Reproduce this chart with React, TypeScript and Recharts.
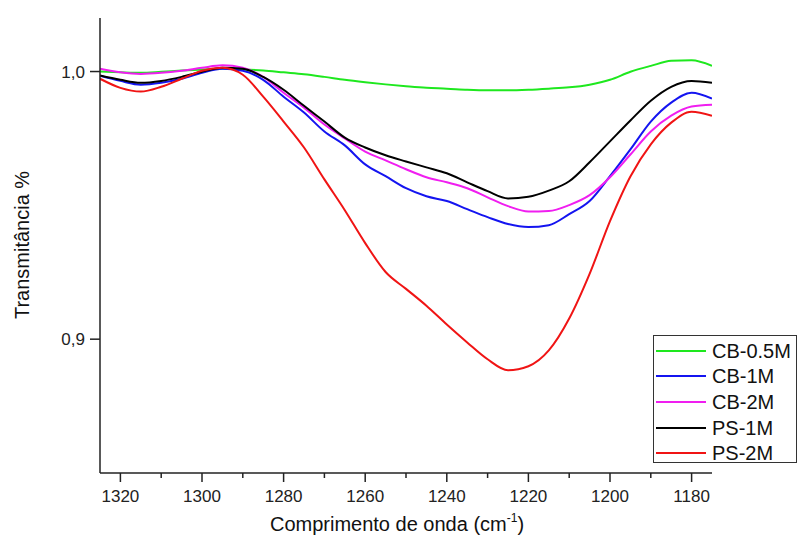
import { LineChart, Line, XAxis, YAxis } from 'recharts';

const wavenumbers = [
  1325, 1320, 1315, 1310, 1305, 1300, 1295, 1290, 1285, 1280, 1275, 1270, 1265, 1260, 1255, 1250,
  1245, 1240, 1235, 1230, 1225, 1220, 1215, 1210, 1205, 1200, 1195, 1190, 1185, 1180, 1175,
];

const cb05 = [
  1.0, 0.9997, 0.9995, 0.9999, 1.0004, 1.0008, 1.001, 1.0008, 1.0004, 0.9997, 0.999, 0.998, 0.9969,
  0.996, 0.9952, 0.9945, 0.9939, 0.9936, 0.9932, 0.993, 0.993, 0.9932, 0.9936, 0.9941, 0.9951,
  0.9969, 0.9999, 1.0021, 1.004, 1.0042, 1.0021,
];
const cb1 = [
  0.9984, 0.9965, 0.9951, 0.9958, 0.9973, 0.9995, 1.001, 1.0003, 0.9969, 0.9906, 0.9847, 0.9776,
  0.9724, 0.9653, 0.9609, 0.9564, 0.9534, 0.9516, 0.9486, 0.9456, 0.943, 0.9419, 0.9426, 0.9467,
  0.9516, 0.9609, 0.9709, 0.9813, 0.9884, 0.9921, 0.9899,
];
const cb2 = [
  1.001, 0.9997, 0.9991, 0.9995, 1.0003, 1.0014, 1.0023, 1.0014, 0.998, 0.9921, 0.9865, 0.9802,
  0.975, 0.9701, 0.9668, 0.9635, 0.9605, 0.9586, 0.9564, 0.953, 0.9497, 0.9477, 0.9479, 0.9501,
  0.9538, 0.9605, 0.969, 0.9776, 0.9835, 0.9869, 0.9876,
];
const ps1 = [
  0.9985, 0.9969, 0.9958, 0.9965, 0.998, 0.9999, 1.0014, 1.001, 0.998, 0.9932, 0.9872, 0.9813,
  0.9753, 0.9716, 0.9687, 0.9664, 0.9642, 0.962, 0.9586, 0.9553, 0.9526, 0.9532, 0.9555, 0.959,
  0.9661, 0.9739, 0.9817, 0.9891, 0.9943, 0.9965, 0.9958,
];
const ps2 = [
  0.9973, 0.9939, 0.9925, 0.9943, 0.9973, 1.0003, 1.0014, 0.9988, 0.9906, 0.9813, 0.9716, 0.9597,
  0.9482, 0.9359, 0.9251, 0.9188, 0.9125, 0.9055, 0.8988, 0.8925, 0.8884, 0.8899, 0.8958, 0.9077,
  0.9244, 0.9441, 0.9608, 0.9728, 0.9809, 0.985, 0.9835,
];

const xTicks = [1320, 1310, 1300, 1290, 1280, 1270, 1260, 1250, 1240, 1230, 1220, 1210, 1200, 1190, 1180];
const yTicks = [0.9, 1.0];

const series = [
  { key: 'cb05', name: 'CB-0.5M', color: '#1ee81e' },
  { key: 'cb1', name: 'CB-1M', color: '#1414f0' },
  { key: 'cb2', name: 'CB-2M', color: '#f01ef0' },
  { key: 'ps1', name: 'PS-1M', color: '#000000' },
  { key: 'ps2', name: 'PS-2M', color: '#f01414' },
];

const data = wavenumbers.map((wn, i) => ({
  wn,
  cb05: cb05[i],
  cb1: cb1[i],
  cb2: cb2[i],
  ps1: ps1[i],
  ps2: ps2[i],
}));

const FONT = '"Liberation Sans", Arial, sans-serif';
const AXIS = '#222';

function XTick(props: any) {
  const { x, y, payload } = props;
  const major = payload.value % 20 === 0;
  return (
    <g>
      <line x1={x} x2={x} y1={y} y2={y + (major ? 9 : 5)} stroke={AXIS} strokeWidth={1.5} />
      {major && (
        <text x={x} y={y + 29} textAnchor="middle" fontSize={17} fill="#222" fontFamily={FONT}>
          {payload.value}
        </text>
      )}
    </g>
  );
}

function YTick(props: any) {
  const { x, y, payload } = props;
  return (
    <g>
      <line x1={x} x2={x - 10} y1={y} y2={y} stroke={AXIS} strokeWidth={1.5} />
      <text x={x - 15} y={y + 6} textAnchor="end" fontSize={17} fill="#222" fontFamily={FONT}>
        {payload.value.toFixed(1).replace('.', ',')}
      </text>
    </g>
  );
}

// legend drawn as an overlay so it doesn't eat plot space
function LegendBox() {
  return (
    <div
      style={{
        position: 'absolute',
        left: 653,
        top: 335,
        width: 144,
        height: 128,
        boxSizing: 'border-box',
        border: '1px solid #333',
        background: '#fff',
        paddingTop: 2,
        fontFamily: FONT,
      }}
    >
      {series.map((s) => (
        <div key={s.key} style={{ display: 'flex', alignItems: 'center', height: 25.6 }}>
          <div style={{ width: 50, height: 2, background: s.color, marginLeft: 2, marginRight: 6 }} />
          <span style={{ fontSize: 20, color: '#111', lineHeight: '20px' }}>{s.name}</span>
        </div>
      ))}
    </div>
  );
}

export default function App() {
  return (
    <div style={{ position: 'absolute', left: 0, top: 0, width: 798, height: 545, background: '#fff' }}>
      <LineChart
        width={798}
        height={545}
        data={data}
        margin={{ top: 18, right: 86, left: 0, bottom: 0 }}
        style={{ fontFamily: FONT }}
      >
        <XAxis
          dataKey="wn"
          type="number"
          domain={[1175, 1325]}
          reversed
          ticks={xTicks}
          interval={0}
          height={72}
          tickSize={0}
          tickMargin={0}
          tickLine={false}
          tick={<XTick />}
          axisLine={{ stroke: AXIS, strokeWidth: 1.5 }}
          allowDataOverflow
        />
        <YAxis
          type="number"
          domain={[0.85, 1.02]}
          ticks={yTicks}
          interval={0}
          width={100}
          tickSize={0}
          tickMargin={0}
          tickLine={false}
          tick={<YTick />}
          axisLine={{ stroke: AXIS, strokeWidth: 1.5 }}
          allowDataOverflow
        />
        {series.map((s) => (
          <Line
            key={s.key}
            type="monotone"
            dataKey={s.key}
            name={s.name}
            stroke={s.color}
            strokeWidth={2}
            dot={false}
            isAnimationActive={false}
          />
        ))}
        <text
          x={22}
          y={245}
          transform="rotate(-90 22 245)"
          textAnchor="middle"
          dominantBaseline="central"
          fontSize={20}
          fill="#111"
          fontFamily={FONT}
        >
          Transmitância %
        </text>
        <text x={397} y={531} textAnchor="middle" fontSize={20} fill="#111" fontFamily={FONT}>
          Comprimento de onda (cm
          <tspan fontSize={12} dy={-9}>-1</tspan>
          <tspan dy={9}>)</tspan>
        </text>
      </LineChart>
      <LegendBox />
    </div>
  );
}
